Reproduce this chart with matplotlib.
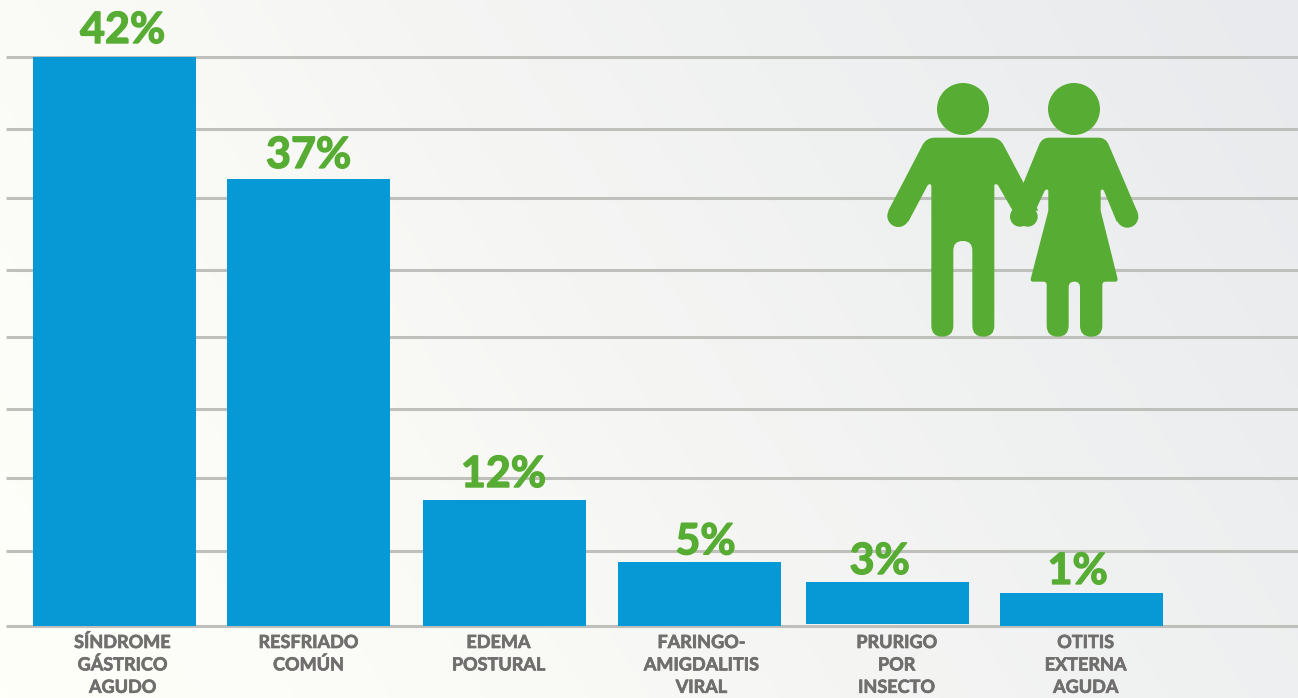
import numpy as np
import matplotlib
matplotlib.use("Agg")
import matplotlib.pyplot as plt
import matplotlib.patheffects as pe
from matplotlib.path import Path
from matplotlib.patches import PathPatch, Circle
from matplotlib.colors import LinearSegmentedColormap

# ---- data ----
categories = ["SÍNDROME\nGÁSTRICO\nAGUDO", "RESFRIADO\nCOMÚN", "EDEMA\nPOSTURAL",
              "FARINGO-\nAMIGDALITIS\nVIRAL", "PRURIGO\nPOR\nINSECTO", "OTITIS\nEXTERNA\nAGUDA"]
percent_labels = ["42%", "37%", "12%", "5%", "3%", "1%"]
# drawn bar lengths (the source graphic is not proportional to its labels)
bar_lengths = [42.0, 33.0, 9.3, 4.7, 3.1, 2.44]
bar_starts = [0, 0, 0, 0, 0.15, 0]
grid_levels = [0.0, 5.55, 10.9, 16.0, 21.3, 26.3, 31.6, 36.7, 42.0]

# ---- layout ----
W, H = 1298, 698
PX_PER_UNIT = 569 / 42.0
BASE_Y = 626
slot_nudge = [0, 0, 0.01, 0.015, -0.015, -0.015]
pct_dx = [8, 0, -1, 6, -8, -4]
pct_dy = [7, 4, 6, 1, 1, 2]
cat_dx = [8, 0, -6, 2, 9, 4]
CAT_FIRST = -22
CAT_PITCH = 22.4
FONT = "Lato"
GREEN = "#57ad33"
BLUE = "#0798d6"
GREY = "#706f6e"

fig = plt.figure(figsize=(W / 100, H / 100), dpi=100)

# background gradient
bg = fig.add_axes([0, 0, 1, 1], zorder=0)
yy, xx = np.mgrid[0:1:200j, 0:1:300j]
t = np.clip((xx + (1 - yy) * 0.35) / 1.35, 0, 1)
cmap = LinearSegmentedColormap.from_list("bg", ["#fffffa", "#f9f9f6", "#f0f1f1", "#e9eaed"])
bg.imshow(t, cmap=cmap, aspect="auto", origin="upper", extent=[0, 1, 0, 1], vmin=0, vmax=1)
bg.axis("off")

# chart axes: full figure, x in slots, y in bar units
ax = fig.add_axes([0, 0, 1, 1], zorder=1)
ax.patch.set_alpha(0)
PITCH = 194.0
X0 = 114.5
ax.set_xlim(-X0 / PITCH, (W - X0) / PITCH)
ax.set_ylim(-(H - BASE_Y) / PX_PER_UNIT, BASE_Y / PX_PER_UNIT)
ax.axis("off")

x_pos = np.arange(len(categories)) + np.array(slot_nudge)
grid_l = (6 - X0) / PITCH
for lv in grid_levels:
    ax.plot([grid_l, ax.get_xlim()[1]], [lv, lv], color="#bfbfbc", lw=2.2, solid_capstyle="butt", zorder=1)
ax.bar(x_pos, bar_lengths, bottom=bar_starts, width=163 / PITCH, color=BLUE, zorder=2)
tops = np.array(bar_lengths) + np.array(bar_starts)
for x, v, s, dx, dy in zip(x_pos, tops, percent_labels, pct_dx, pct_dy):
    ax.annotate(s, (x, v), xytext=(dx, dy), textcoords="offset pixels", ha="center", va="bottom",
                color=GREEN, fontsize=31, fontweight="bold", family=FONT, zorder=3,
                path_effects=[pe.withStroke(linewidth=1.0, foreground=GREEN)])
for x, c, dx in zip(x_pos, categories, cat_dx):
    for j, line in enumerate(c.split("\n")):
        ax.annotate(line, (x, 0), xytext=(dx, CAT_FIRST - CAT_PITCH * j), textcoords="offset pixels",
                    ha="center", va="baseline", color=GREY, fontsize=13, fontweight="bold",
                    family=FONT, zorder=3, path_effects=[pe.withStroke(linewidth=0.5, foreground=GREY)])

# couple pictogram, in an overlay whose units are the 3x reference crop
icon = fig.add_axes([0, 0, 1, 1], zorder=2)
icon.patch.set_alpha(0)
icon.set_xlim(-860 * 3, (W - 860) * 3)
icon.set_ylim((H - 60) * 3, -60 * 3)
icon.axis("off")

def rounded(pts):
    verts, codes = [], []
    n = len(pts)
    for i, (x, y, r) in enumerate(pts):
        p = np.array([x, y], float)
        a = np.array(pts[i - 1][:2], float)
        b = np.array(pts[(i + 1) % n][:2], float)
        if r <= 0:
            verts.append(p); codes.append(Path.LINETO)
            continue
        u = (a - p) / np.linalg.norm(a - p)
        w = (b - p) / np.linalg.norm(b - p)
        verts += [p + u * r, p, p + w * r]
        codes += [Path.LINETO, Path.CURVE3, Path.CURVE3]
    codes[0] = Path.MOVETO
    verts.append(verts[0]); codes.append(Path.CLOSEPOLY)
    return Path(verts, codes)

man = [(199, 233, 25), (419, 233, 25), (535, 452, 0), (458, 452, 0), (412, 372, 6), (403, 372, 6),
       (403, 830, 33), (337, 830, 33), (337, 543, 28), (280, 543, 28), (280, 830, 33), (214, 830, 33),
       (214, 372, 6), (205, 372, 6), (145, 485, 0), (85, 452, 0)]
woman = [(546, 233, 22), (737, 233, 22), (833, 458, 0), (770, 485, 0), (730, 388, 6), (722, 388, 6),
         (722, 452, 0), (775, 665, 10), (727, 665, 10), (727, 830, 33), (660, 830, 33), (660, 665, 17),
         (626, 665, 17), (626, 830, 33), (560, 830, 33), (560, 665, 10), (510, 665, 10), (565, 452, 0),
         (565, 388, 6), (556, 388, 6), (525, 455, 0), (455, 455, 0)]
for shape in (man, woman):
    icon.add_patch(PathPatch(rounded(shape), fc=GREEN, ec="none"))
for cx, cy, r in [(309, 147, 78), (642, 147, 78), (115, 468, 33), (802, 470, 33), (480, 470, 30), (503, 470, 30)]:
    icon.add_patch(Circle((cx, cy), r, fc=GREEN, ec="none"))

fig.savefig("out.png", dpi=100)
